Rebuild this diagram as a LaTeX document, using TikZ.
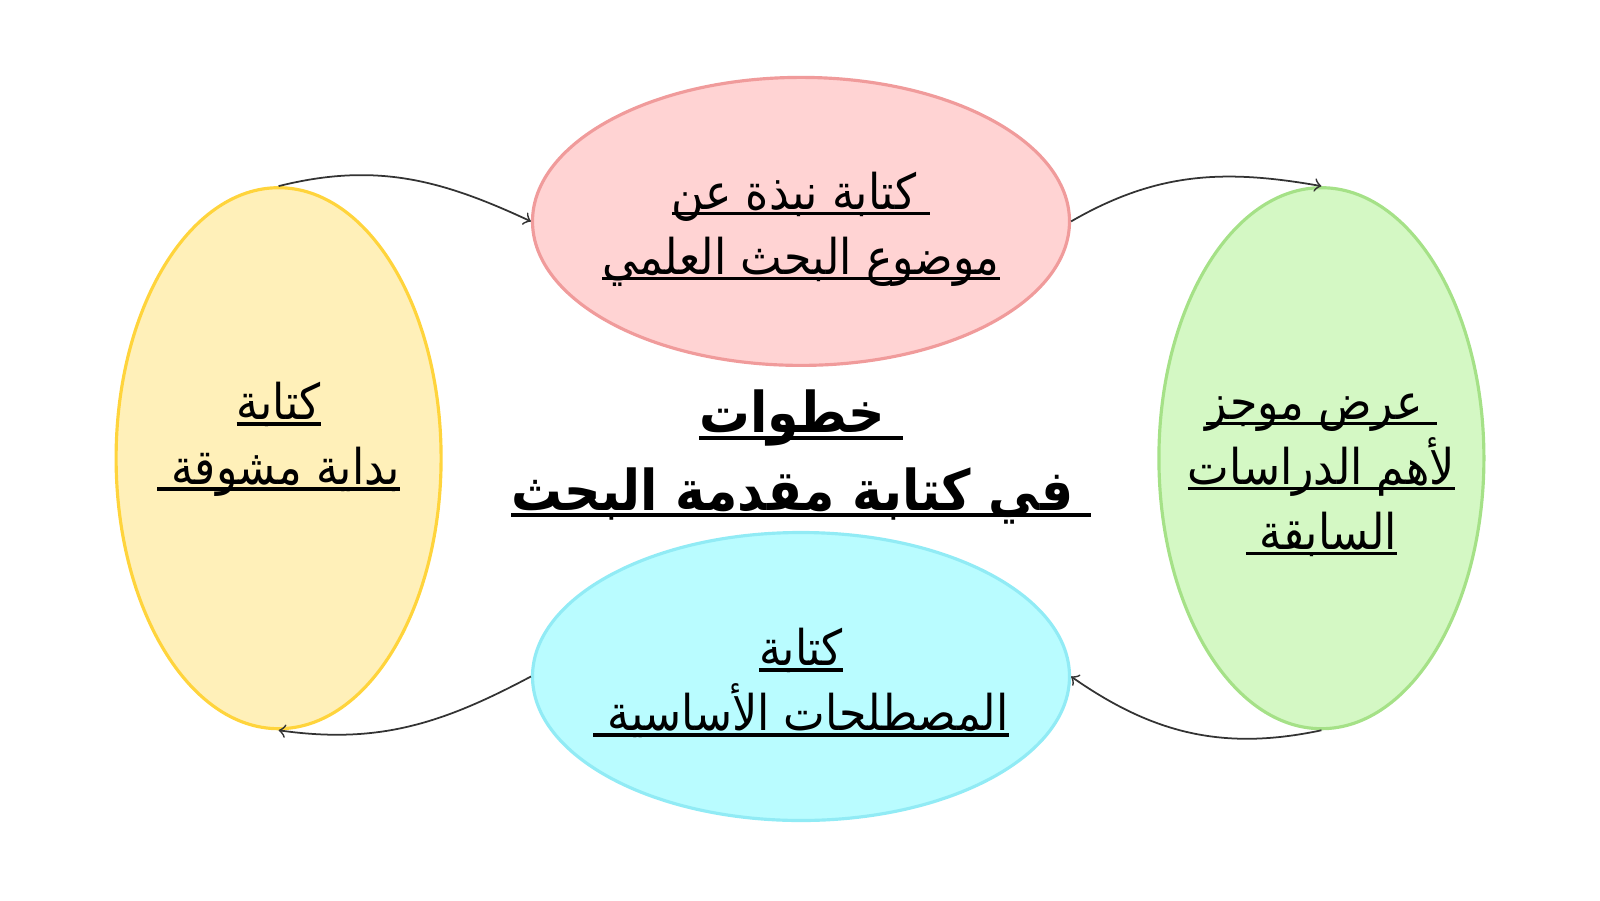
\documentclass[tikz,border=0pt]{standalone}
\usepackage{fontspec}
\usetikzlibrary{arrows,shapes.geometric}
\TeXXeTstate=1
\newfontfamily\arabicfont[Script=Arabic,FakeStretch=0.9]{DejaVu Sans}
\newcommand\arul[1]{\setbox0\hbox{\beginR#1\endR}\rlap{\rule[-0.12em]{\wd0}{0.07em}}\box0}

\definecolor{pinkfill}{RGB}{255,211,211}
\definecolor{pinkline}{RGB}{240,155,155}
\definecolor{cyanfill}{RGB}{185,252,255}
\definecolor{cyanline}{RGB}{145,235,245}
\definecolor{yellowfill}{RGB}{255,240,185}
\definecolor{yellowline}{RGB}{255,212,60}
\definecolor{greenfill}{RGB}{212,248,196}
\definecolor{greenline}{RGB}{165,225,135}

\tikzset{
oval/.style={ellipse, draw, line width=0.9pt, inner sep=0pt},
flat/.style={oval, minimum width=5.37cm, minimum height=2.88cm},
tall/.style={oval, minimum width=3.25cm, minimum height=5.41cm},
steptext/.style={font=\arabicfont\fontsize{14}{18.5}\selectfont, align=center},
titletext/.style={font=\arabicfont\bfseries\fontsize{16}{22}\selectfont, align=center},
link/.style={->, draw=black!80, line width=0.5pt}
}

\begin{document}
\begin{tikzpicture}
\useasboundingbox (0,0) rectangle (16,9);
% the four ovals
\node[flat, draw=pinkline, fill=pinkfill] (nubdha) at (8.01,6.786) {};
\node[flat, draw=cyanline, fill=cyanfill] (mustalahat) at (8.01,2.235) {};
\node[tall, draw=yellowline, fill=yellowfill] (bidaya) at (2.786,4.418) {};
\node[tall, draw=greenline, fill=greenfill] (dirasat) at (13.214,4.418) {};
% texts
\node[steptext] (nubdhatext) at (8.01,6.708) {\arul{\ كتابة نبذة عن}\\ \arul{موضوع البحث العلمي}};
\node[steptext] (bidayatext) at (2.786,4.602) {\arul{كتابة}\\ \arul{بداية مشوقة\ }};
\node[steptext] (dirasattext) at (13.214,4.25) {\arul{\ عرض موجز}\\ \arul{لأهم الدراسات}\\ \arul{السابقة\ }};
\node[steptext] (mustalahattext) at (8.01,2.168) {\arul{كتابة}\\ \arul{المصطلحات الأساسية\ }};
\node[titletext] (title) at (8.01,4.43) {\arul{\ خطوات}\\ \arul{\ في كتابة مقدمة البحث}};
% arrows
\draw[link] (bidaya.north) to[out=14,in=155] (nubdha.west);
\draw[link] (nubdha.east) to[out=30,in=170] (dirasat.north);
\draw[link] (dirasat.south) to[out=192,in=-35] (mustalahat.east);
\draw[link] (mustalahat.west) to[out=208,in=-8] (bidaya.south);
\end{tikzpicture}
\end{document}
